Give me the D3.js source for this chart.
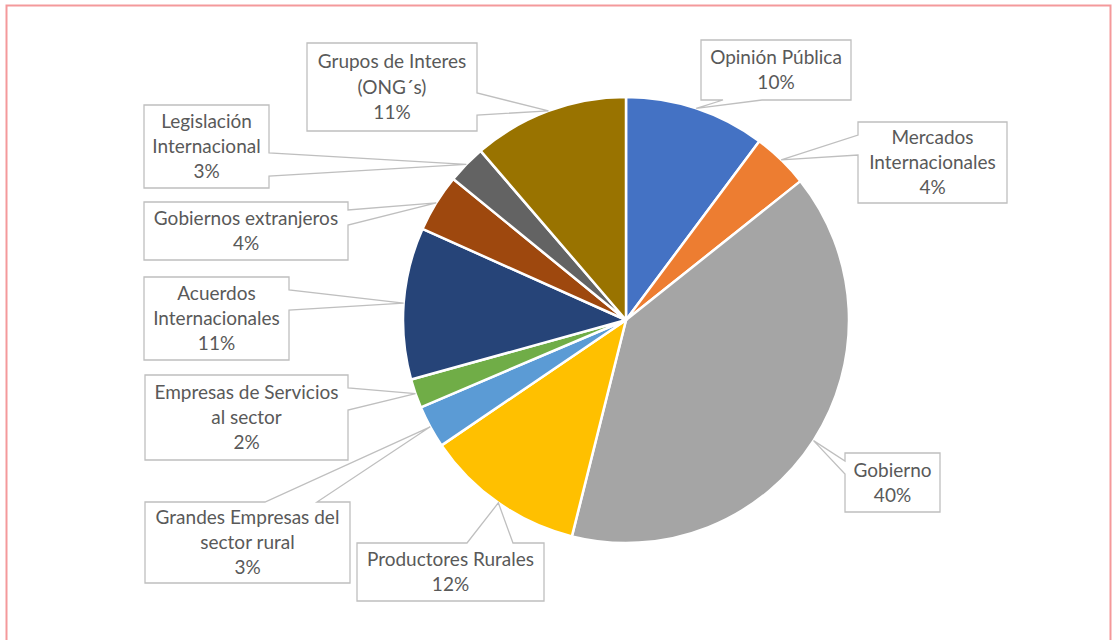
<!DOCTYPE html>
<html>
<head>
<meta charset="utf-8">
<script src="https://cdn.jsdelivr.net/npm/d3@7"></script>
<style>
  html, body { margin: 0; padding: 0; background: #fff; }
  svg { display: block; }
</style>
</head>
<body>
<svg id="chart" width="1116" height="640"></svg>
<script>
// ---- data ----
const categories = [
  "Opinión Pública",
  "Mercados Internacionales",
  "Gobierno",
  "Productores Rurales",
  "Grandes Empresas del sector rural",
  "Empresas de Servicios al sector",
  "Acuerdos Internacionales",
  "Gobiernos extranjeros",
  "Legislación Internacional",
  "Grupos de Interes (ONG´s)"
];
const values = [10.2, 4.1, 39.6, 11.6, 3.1, 2.1, 11.0, 4.2, 2.8, 11.3];
const labelLines = [
  ["Opinión Pública"],
  ["Mercados", "Internacionales"],
  ["Gobierno"],
  ["Productores Rurales"],
  ["Grandes Empresas del", "sector rural"],
  ["Empresas de Servicios", "al sector"],
  ["Acuerdos", "Internacionales"],
  ["Gobiernos extranjeros"],
  ["Legislación", "Internacional"],
  ["Grupos de Interes", "(ONG´s)"]
];
const colors = ["#4472C4", "#ED7D31", "#A5A5A5", "#FFC000", "#5B9BD5",
                "#70AD47", "#264478", "#9E480E", "#636363", "#997300"];

// ---- layout of callout boxes (x, y, w, h, side of the pointer, base positions along that side) ----
const boxes = [
  {x: 701, y: 40,  w: 150, h: 60, side: "bottom", a: 723, b: 762},
  {x: 858, y: 122, w: 149, h: 81, side: "left",   a: 135, b: 155},
  {x: 845, y: 453, w: 95,  h: 59, side: "left",   a: 461, b: 474},
  {x: 357, y: 543, w: 187, h: 58, side: "top",    a: 467, b: 513},
  {x: 145, y: 502, w: 205, h: 81, side: "top",    a: 265, b: 317},
  {x: 145, y: 375, w: 203, h: 85, side: "right",  a: 388, b: 410},
  {x: 144, y: 277, w: 145, h: 83, side: "right",  a: 290, b: 310},
  {x: 144, y: 202, w: 204, h: 58, side: "right",  a: 210, b: 225},
  {x: 144, y: 105, w: 125, h: 83, side: "right",  a: 153, b: 176},
  {x: 307, y: 43,  w: 170, h: 88, side: "right",  a: 93,  b: 115}
];

const svg = d3.select("#chart");
const cx = 626, cy = 320, R = 223;

// outer border
svg.append("rect")
  .attr("x", 6.5).attr("y", 5.5).attr("width", 1104).attr("height", 660)
  .attr("fill", "none").attr("stroke", "#F4999B").attr("stroke-width", 2);

const total = d3.sum(values);
const pie = d3.pie().sort(null).value(d => d)(values);
const arc = d3.arc().innerRadius(0).outerRadius(R);

const g = svg.append("g").attr("transform", `translate(${cx},${cy})`);
g.selectAll("path.slice")
  .data(pie)
  .enter().append("path")
  .attr("class", "slice")
  .attr("d", arc)
  .attr("fill", (d, i) => colors[i])
  .attr("stroke", "#fff")
  .attr("stroke-width", 2.5)
  .attr("stroke-linejoin", "round");

// callouts
function calloutPath(b, tip) {
  const x0 = b.x, y0 = b.y, x1 = b.x + b.w, y1 = b.y + b.h;
  const p = [];
  p.push([x0, y0]);
  if (b.side === "top") { p.push([b.a, y0], tip, [b.b, y0]); }
  p.push([x1, y0]);
  if (b.side === "right") { p.push([x1, b.a], tip, [x1, b.b]); }
  p.push([x1, y1]);
  if (b.side === "bottom") { p.push([b.b, y1], tip, [b.a, y1]); }
  p.push([x0, y1]);
  if (b.side === "left") { p.push([x0, b.b], tip, [x0, b.a]); }
  return "M" + p.map(q => q.join(",")).join("L") + "Z";
}

const fmt = v => Math.round(v / total * 100) + "%";
const lineH = 25.3;

pie.forEach((d, i) => {
  const b = boxes[i];
  const mid = (d.startAngle + d.endAngle) / 2;
  const tip = [cx + R * Math.sin(mid), cy - R * Math.cos(mid)];
  svg.append("path")
    .attr("d", calloutPath(b, tip))
    .attr("fill", "#fff")
    .attr("stroke", "#BFBFBF")
    .attr("stroke-width", 1.3)
    .attr("stroke-linejoin", "miter");
  const lines = labelLines[i].concat([fmt(values[i])]);
  const n = lines.length;
  const ccx = b.x + b.w / 2, ccy = b.y + b.h / 2;
  const t = svg.append("text")
    .attr("font-family", "Lato, 'Open Sans', sans-serif")
    .attr("font-size", 19)
    .attr("fill", "#595959")
    .attr("text-anchor", "middle");
  lines.forEach((s, k) => {
    t.append("tspan")
      .attr("x", ccx)
      .attr("y", ccy + (k - (n - 1) / 2) * lineH)
      .attr("dy", "0.35em")
      .text(s);
  });
});
</script>
</body>
</html>
